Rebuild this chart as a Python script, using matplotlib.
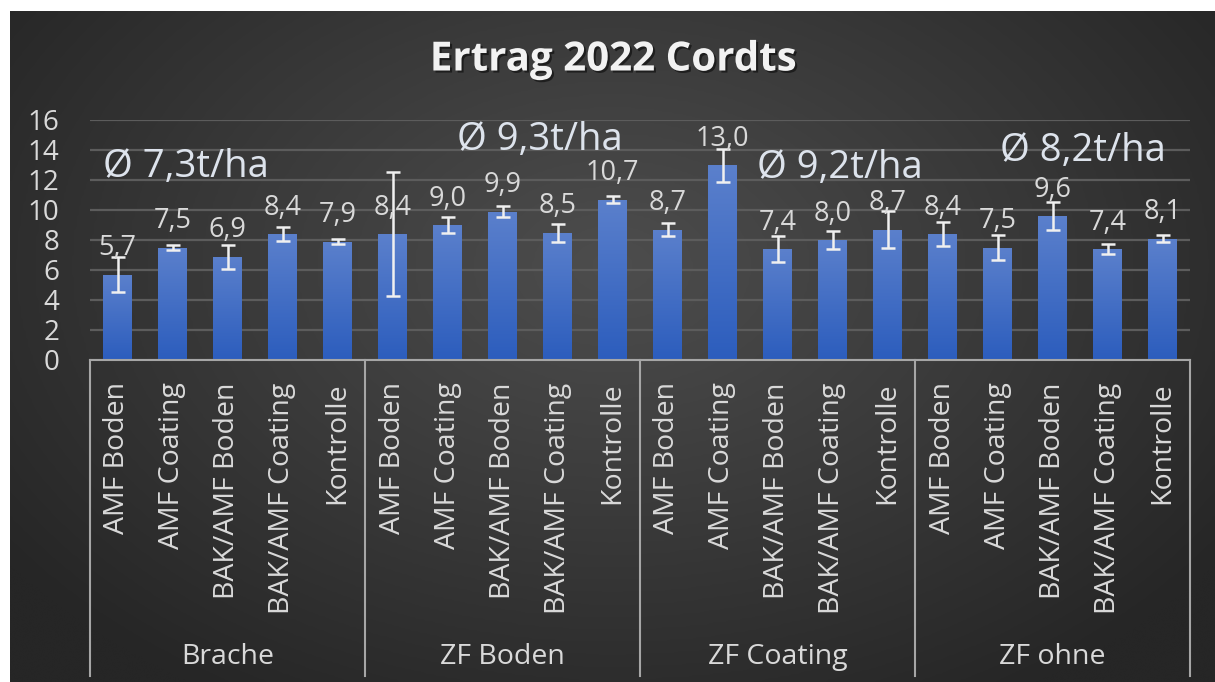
import numpy as np
import matplotlib
matplotlib.use("Agg")
import matplotlib.pyplot as plt
from matplotlib import patheffects as pe
from matplotlib.colors import LinearSegmentedColormap

# ---------------- data ----------------
groups = ["Brache", "ZF Boden", "ZF Coating", "ZF ohne"]
treatments = ["AMF Boden", "AMF Coating", "BAK/AMF Boden", "BAK/AMF Coating", "Kontrolle"]

brache = [5.7, 7.5, 6.9, 8.4, 7.9]
zf_boden = [8.4, 9.0, 9.9, 8.5, 10.7]
zf_coating = [8.7, 13.0, 7.4, 8.0, 8.7]
zf_ohne = [8.4, 7.5, 9.6, 7.4, 8.1]

brache_err = [1.15, 0.15, 0.80, 0.47, 0.17]
zf_boden_err = [4.15, 0.55, 0.35, 0.60, 0.25]
zf_coating_err = [0.42, 1.10, 0.88, 0.60, 1.25]
zf_ohne_err = [0.82, 0.83, 0.95, 0.36, 0.26]

group_means = ["Ø 7,3t/ha", "Ø 9,3t/ha", "Ø 9,2t/ha", "Ø 8,2t/ha"]
y_ticks = [0, 2, 4, 6, 8, 10, 12, 14, 16]
title = "Ertrag 2022 Cordts"

values = brache + zf_boden + zf_coating + zf_ohne
errors = brache_err + zf_boden_err + zf_coating_err + zf_ohne_err
labels = treatments * len(groups)

# ---------------- style ----------------
FONT = "Open Sans"
TXT = "#d9d9d9"
W, H = 1215, 682
fig = plt.figure(figsize=(W / 100, H / 100), dpi=100, facecolor="white")

# background with radial gradient
bg = fig.add_axes([10 / W, 0, 1205 / W, 671 / H])
bg.set_axis_off()
yy, xx = np.mgrid[0:1:300j, 0:1:500j]
r = np.sqrt(((xx - 0.5) / 0.62) ** 2 + ((yy - 0.62) / 0.75) ** 2)
r = np.clip(r, 0, 1)
cmap_bg = LinearSegmentedColormap.from_list("bg", ["#4d4d4d", "#3a3a3a", "#262626"])
bg.imshow(r, cmap=cmap_bg, aspect="auto", extent=[0, 1, 0, 1], origin="lower",
          vmin=0, vmax=1, interpolation="bicubic")
bg.set_xlim(0, 1)
bg.set_ylim(0, 1)

ax = fig.add_axes([90 / W, 1 - 360 / H, 1100 / W, 240 / H])
ax.set_facecolor("none")
x = np.arange(len(values))
bars = ax.bar(x, values, width=0.52, color="#3f6fcc", zorder=2)

# gradient fill for bars
cmap_bar = LinearSegmentedColormap.from_list("bar", ["#2c5dbd", "#5b80cc"])
grad = np.linspace(0, 1, 256).reshape(-1, 1)
for b in bars:
    bx, by = b.get_x(), b.get_y()
    bw, bh = b.get_width(), b.get_height()
    im = ax.imshow(grad, cmap=cmap_bar, aspect="auto", origin="lower",
                   extent=[bx, bx + bw, by, by + bh], zorder=2.1)
    im.set_clip_path(b)

ax.errorbar(x, values, yerr=errors, fmt="none", ecolor="#f0f0f0", elinewidth=1.8,
            capsize=5, capthick=1.8, zorder=3)

for xi, v in zip(x, values):
    ax.annotate(f"{v:.1f}".replace(".", ","), (xi, v), xytext=(0, 14),
                textcoords="offset points", ha="center", va="baseline",
                fontsize=19.5, color=TXT, family=FONT, zorder=4)

ax.set_xlim(-0.5, len(values) - 0.5)
ax.set_ylim(0, 16)
ax.set_yticks(y_ticks)
ax.set_yticklabels([str(t) for t in y_ticks], fontsize=20, color=TXT, family=FONT)
ax.tick_params(axis="y", length=0, pad=22)
ax.grid(axis="y", color="#5c5c5c", linewidth=1.6, zorder=0)
ax.set_axisbelow(True)

ax.set_xticks(x)
ax.set_xticklabels(labels, rotation=90, fontsize=20.5, color=TXT, family=FONT)
ax.tick_params(axis="x", length=0, pad=16)

for s in ["top", "right", "left"]:
    ax.spines[s].set_visible(False)
ax.spines["bottom"].set_color("#a6a6a6")
ax.spines["bottom"].set_linewidth(1.5)

# category group boxes
n = len(treatments)
y_low = -(676 - 360) / 240
for k in range(len(groups) + 1):
    ax.plot([k * n - 0.5, k * n - 0.5], [0, y_low], transform=ax.get_xaxis_transform(),
            color="#a6a6a6", lw=1.5, clip_on=False, zorder=1)
for k, g in enumerate(groups):
    ax.text(k * n + (n - 1) / 2, -(657 - 360) / 240, g, transform=ax.get_xaxis_transform(),
            ha="center", va="center", fontsize=20.5, color=TXT, family=FONT)

# group mean annotations
mean_pos = [(-0.26, 12.22), (6.17, 14.0), (11.63, 12.13), (16.05, 13.29)]
for txt, (mx, my) in zip(group_means, mean_pos):
    ax.text(mx, my, txt, ha="left", va="baseline", fontsize=27.5, color="#dde3ec",
            family=FONT, zorder=5, clip_on=False)

fig.text(613 / W, 1 - 60 / H, title, ha="center", va="center", fontsize=29,
         fontweight="bold", color="#f2f2f2", family=FONT,
         path_effects=[pe.withSimplePatchShadow(offset=(1.5, -1.5), shadow_rgbFace="black", alpha=0.5)])

fig.savefig("out.png", dpi=100, facecolor="white")
